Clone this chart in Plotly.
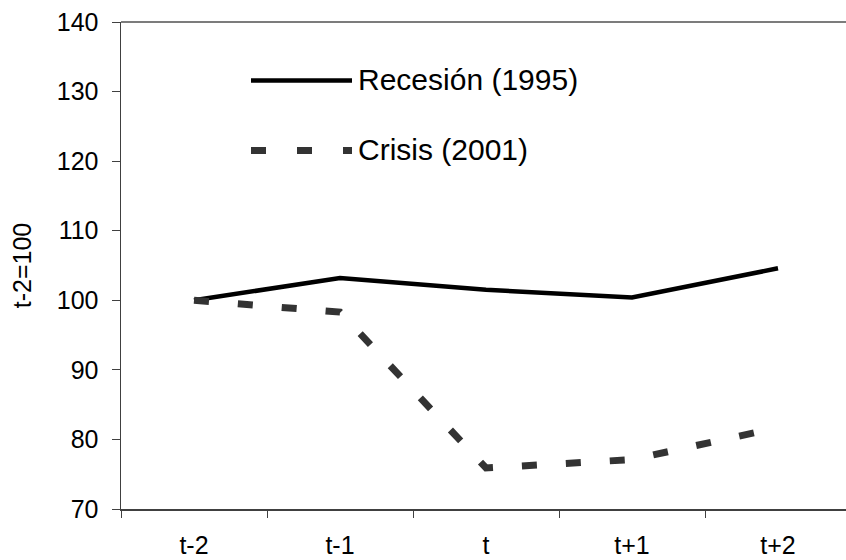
import plotly.graph_objects as go

categories = ["t-2", "t-1", "t", "t+1", "t+2"]
recesion_1995 = [100, 103.2, 101.5, 100.4, 104.6]
crisis_2001 = [100, 98.3, 75.9, 77.1, 81.7]
y_ticks = [70, 80, 90, 100, 110, 120, 130, 140]
series_names = ["Recesión (1995)", "Crisis (2001)"]
y_title = "t-2=100"

FONT = "Liberation Sans, Arial, sans-serif"

fig = go.Figure()
fig.add_trace(go.Scatter(x=categories, y=recesion_1995, mode="lines",
                         line=dict(color="#000000", width=4.5),
                         name=series_names[0], showlegend=False))
fig.add_trace(go.Scatter(x=categories, y=crisis_2001, mode="lines",
                         line=dict(color="#333333", width=7, dash="15px,29px"),
                         name=series_names[1], showlegend=False))

W, H = 846, 560
L, R, T, B = 121, 0, 22, 51
pw, ph = W - L - R, H - T - B
def px(x):
    return (x - L) / pw
def py(y):
    return (H - B - y) / ph

fig.add_shape(type="line", xref="paper", yref="paper", x0=0, x1=1, y0=1, y1=1,
              line=dict(color="#505050", width=1.5))
fig.add_shape(type="line", xref="paper", yref="paper",
              x0=px(251), x1=px(352), y0=py(80.5), y1=py(80.5),
              line=dict(color="#000000", width=4.5))
fig.add_shape(type="line", xref="paper", yref="paper",
              x0=px(251), x1=px(352), y0=py(150.5), y1=py(150.5),
              line=dict(color="#333333", width=7, dash="15px,31px"))
fig.add_annotation(xref="paper", yref="paper", x=px(356), y=py(79),
                   text=series_names[0], showarrow=False, xanchor="left", yanchor="middle",
                   font=dict(family=FONT, size=30, color="#000000"))
fig.add_annotation(xref="paper", yref="paper", x=px(356), y=py(149),
                   text=series_names[1], showarrow=False, xanchor="left", yanchor="middle",
                   font=dict(family=FONT, size=30, color="#000000"))

cat_w = 146
fig.update_layout(
    width=W, height=H,
    margin=dict(l=L, r=R, t=T, b=B, pad=0, autoexpand=False),
    paper_bgcolor="white", plot_bgcolor="white",
    font=dict(family=FONT, color="#000000"),
    xaxis=dict(type="category", range=[-0.5, -0.5 + pw / cat_w], automargin=False,
               tickson="boundaries", ticks="outside", ticklen=7, tickwidth=1,
               tickcolor="#404040", showline=True, linecolor="#404040", linewidth=1.5,
               mirror=False, showgrid=False, zeroline=False, showspikes=False,
               tickfont=dict(family=FONT, size=25), ticklabelstandoff=13),
    yaxis=dict(range=[70, 140], tickvals=y_ticks, ticks="outside", ticklen=8,
               tickwidth=1, tickcolor="#404040", showline=True, linecolor="#404040",
               linewidth=1.5, showgrid=False, zeroline=False, automargin=False,
               showspikes=False,
               tickfont=dict(family=FONT, size=25), ticklabelstandoff=8,
               title=dict(text=y_title, font=dict(family=FONT, size=25), standoff=18)),
)

fig.write_html("out.html", config={"displayModeBar": False, "staticPlot": True},
               post_script="document.documentElement.style.margin='0';document.body.style.margin='0';document.body.style.padding='0';document.documentElement.style.overflow='hidden';document.body.style.overflow='hidden';")
